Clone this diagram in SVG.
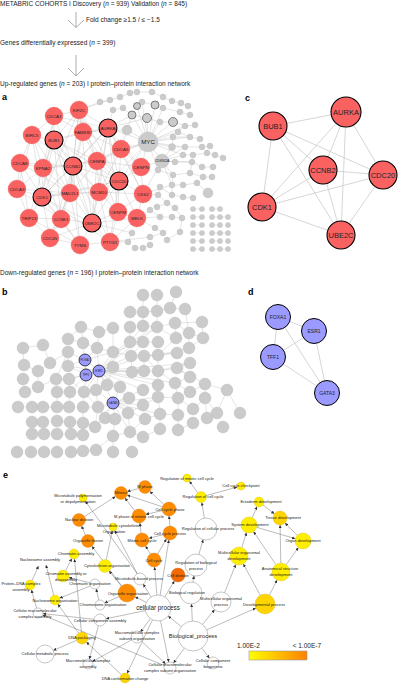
<svg xmlns="http://www.w3.org/2000/svg" width="401" height="685" viewBox="0 0 401 685">
<style>
text{font-family:"Liberation Sans",Arial,sans-serif;fill:#222}
.lbl{font-weight:bold;font-size:9px;fill:#000}
.hdr{font-size:6.5px}
.rn{fill:#fa6262;stroke:#e85656;stroke-width:0.3}
.rb{fill:#fa6262;stroke:#000;stroke-width:1.1}
.rt{font-size:4.4px;text-anchor:middle}
.gn{fill:#cbcbcb;stroke:#b4b4b4;stroke-width:0.3}
.gd{fill:#cbcbcb;stroke:#555;stroke-width:0.7}
.ea{stroke:#bdbdbd;stroke-width:0.4;fill:none}
.ec{stroke:#cccccc;stroke-width:0.8;fill:none}
.bn{fill:#9b9bff;stroke:#000;stroke-width:1}
.bs{fill:#9b9bff;stroke:#000;stroke-width:0.7}
.ct{font-size:7.5px;text-anchor:middle}
.dt{font-size:5px;text-anchor:middle}
.et{stroke:#6a6a6a;stroke-width:0.45;fill:none;marker-end:url(#ah)}
.eo{fill:#ff8c00;stroke:#c86e00;stroke-width:0.3}
.ed{fill:#f26a00;stroke:#b85000;stroke-width:0.3}
.ey{fill:#ffee00;stroke:#c8b400;stroke-width:0.3}
.eg{fill:#ffd400;stroke:#c8a000;stroke-width:0.3}
.ew{fill:#fff;stroke:#8c8c8c;stroke-width:0.5}
.tx{font-size:4px;text-anchor:middle}
.arr{stroke:#8a8a8a;stroke-width:0.7;fill:none}
</style>
<defs>
<marker id="ah" viewBox="0 0 6 6" refX="6" refY="3" markerWidth="3.2" markerHeight="3.2" orient="auto" markerUnits="userSpaceOnUse"><path d="M0 0L6 3L0 6z" fill="#333"/></marker>
<linearGradient id="lg" x1="0" x2="1" y1="0" y2="0"><stop offset="0" stop-color="#ffff00"/><stop offset="1" stop-color="#ff8000"/></linearGradient>
</defs>

<g id="header">
<text class="hdr" x="0" y="6">METABRIC COHORTS I Discovery (<tspan font-style="italic">n</tspan> = 939) Validation (<tspan font-style="italic">n</tspan> = 845)</text>
<path class="arr" d="M76 12V27.5M68 20L76 27.5L84 20"/>
<text class="hdr" x="86" y="21.6">Fold change ≥1.5 / ≤ −1.5</text>
<text class="hdr" x="0" y="45">Genes differentially expressed (<tspan font-style="italic">n</tspan> = 399)</text>
<path class="arr" d="M76 55V76M68 68L76 76L84 68"/>
<text class="hdr" x="0" y="85.7">Up-regulated genes (<tspan font-style="italic">n</tspan> = 203) I protein–protein interaction network</text>
<text class="hdr" x="0" y="274.5">Down-regulated genes (<tspan font-style="italic">n</tspan> = 196) I protein–protein interaction network</text>
<text class="lbl" x="2" y="100">a</text>
<text class="lbl" x="245" y="101">c</text>
<text class="lbl" x="2" y="295">b</text>
<text class="lbl" x="248" y="295">d</text>
<text class="lbl" x="3" y="478">e</text>
</g>

<g id="connectors">
<path class="ea" d="M79 110L54 116M79 110L83 132M79 110L108 128M79 110L54 140M79 110L73 166M79 110L97 161M79 110L70 193M79 110L119 181M79 110L42 197M79 110L92 223M54 116L32 135M54 116L54 140M54 116L83 132M54 116L43 168M54 116L73 166M54 116L42 197M54 116L108 128M32 135L54 140M32 135L20 163M32 135L43 168M32 135L42 197M32 135L73 166M32 135L17 189M32 135L70 193M54 140L83 132M54 140L108 128M54 140L43 168M54 140L73 166M54 140L97 161M54 140L42 197M54 140L70 193M54 140L119 181M54 140L92 223M54 140L99 192M54 140L61 219M83 132L108 128M83 132L73 166M83 132L97 161M83 132L121 149M83 132L119 181M83 132L70 193M108 128L73 166M108 128L97 161M108 128L121 149M108 128L119 181M108 128L42 197M108 128L92 223M108 128L99 192M108 128L141 167M108 128L143 194M108 128L118 212M20 163L43 168M20 163L17 189M20 163L42 197M20 163L73 166M20 163L29 218M20 163L70 193M43 168L73 166M43 168L17 189M43 168L42 197M43 168L70 193M43 168L29 218M43 168L61 219M43 168L97 161M73 166L97 161M73 166L42 197M73 166L70 193M73 166L99 192M73 166L119 181M73 166L92 223M73 166L61 219M73 166L50 238M73 166L80 245M73 166L110 242M97 161L121 149M97 161L70 193M97 161L99 192M97 161L119 181M97 161L118 212M97 161L92 223M97 161L141 167M121 149L119 181M121 149L141 167M121 149L99 192M121 149L143 194M17 189L42 197M17 189L29 218M17 189L61 219M17 189L70 193M42 197L70 193M42 197L119 181M42 197L29 218M42 197L61 219M42 197L92 223M42 197L50 238M42 197L80 245M42 197L99 192M42 197L110 242M70 193L99 192M70 193L61 219M70 193L92 223M70 193L50 238M70 193L80 245M70 193L119 181M99 192L119 181M99 192L118 212M99 192L92 223M99 192L110 242M99 192L143 194M119 181L118 212M119 181L92 223M119 181L141 167M119 181L143 194M119 181L137 218M119 181L110 242M29 218L61 219M29 218L50 238M29 218L80 245M61 219L92 223M61 219L50 238M61 219L80 245M118 212L92 223M118 212L110 242M118 212L137 218M118 212L143 194M92 223L50 238M92 223L80 245M92 223L110 242M92 223L137 218M50 238L80 245M80 245L110 242M110 242L137 218M141 167L143 194M143 194L137 218"/>
<path class="ea" d="M148 142L137 106M148 142L142 102M148 142L155 105M148 142L163 108M148 142L160 122M148 142L173 122M148 142L178 132M148 142L173 137M148 142L162 161M148 142L172 147M148 142L185 147M148 142L185 126M148 142L190 137M148 142L147 118M148 142L132 115M148 142L127 130M148 142L158 170M148 142L183 155M162 161L173 175M162 161L183 155M162 161L175 162M162 161L192 162M162 161L172 185M162 161L158 170M162 161L172 147M162 161L185 147M137 92L152 92M152 92L163 97M163 97L172 101M172 101L181 103M181 103L188 106M142 102L155 105M137 106L142 102M155 105L163 108M163 108L180 112M180 112L190 115M132 115L147 118M147 118L160 122M160 122L173 122M173 122L185 126M185 126L195 125M178 132L190 137M190 137L200 139M173 137L172 147M172 147L185 147M185 147L202 147M202 147L210 146M183 155L193 155M193 155L207 153M207 153L215 155M215 155L223 158M175 162L192 162M192 162L202 167M202 167L213 167M173 175L190 173M190 173L203 177M203 177L212 177M172 185L183 185M183 185L197 183M197 183L208 193M172 185L172 195M160 187L172 195M158 195L167 203M167 203L175 208M172 195L183 197M183 197L193 198M157 207L167 203M150 210L160 217M160 217L172 217M172 217L182 218M155 228L163 233M163 233L150 237M167 240L180 232M150 245L143 248M143 248L135 248M128 242L132 233M100 102L110 100M110 100L120 97M120 97L130 93M113 110L123 108M123 108L132 115M130 93L137 92M127 130L132 115M173 137L190 137M178 132L185 126M158 170L173 175M173 175L172 185M190 173L192 162M160 187L158 195M175 208L182 218M180 232L182 218M108 128L148 142M121 149L148 142M141 167L148 142M73 166L148 142M119 181L148 142M141 167L162 161M143 194L172 185M143 194L158 195M137 218L160 217M137 218L150 210M110 242L150 237M110 242L128 242M79 110L100 102M79 110L110 100M83 132L127 130M108 128L132 115M108 128L147 118M108 128L113 110M143 194L162 161M137 218L155 228M121 149L127 130M99 192L148 142M97 161L148 142M92 223L132 233M193 209L202 209M212 209L220 209M193 217L202 217M212 217L220 217M220 217L228 217M193 225L202 225M212 225L220 225M193 233L202 233M212 233L228 233M193 241L202 241M212 241L220 241M193 249L202 249M212 249L220 249M220 249L228 249"/>
<path class="ec" d="M273 126L346 112M273 126L262 207M273 126L323 170M273 126L383 175M273 126L341 235M346 112L262 207M346 112L323 170M346 112L341 235M346 112L383 175M323 170L383 175M323 170L262 207M323 170L341 235M262 207L383 175M262 207L341 235M341 235L383 175"/>
<path class="ea" d="M99 371L113 367M99 371L113 352M99 371L107 385M99 371L120 387M99 371L131 356M99 371L130 342M99 371L143 371M99 371L132 372M99 371L144 356M99 371L158 371M99 371L158 385M99 371L143 390M99 371L129 398M99 371L113 403M99 371L86 375M99 371L85 360M99 371L97 348M99 371L84 392M99 371L96 390M99 371L69 379M99 371L68 366M99 371L157 327M99 371L175 383M99 371L190 363M113 403L98 407M113 403L105 418M113 403L115 419M113 403L128 413M113 403L129 398M113 403L143 405M113 403L143 390M113 403L120 387M113 403L96 390M113 403L95 427M113 403L145 419M113 403L160 414M113 403L158 397M113 403L130 432M85 360L97 348M85 360L83 343M85 360L68 352M85 360L68 366M85 360L86 375M85 360L113 352M86 375L69 379M86 375L84 392M86 375L70 392M86 375L68 366M113 352L130 342M113 352L131 356M113 352L143 342M113 352L113 328M130 342L143 342M130 342L143 326M130 342L157 327M130 342L130 327M130 342L158 342M131 356L144 356M131 356L143 342M131 356L158 355M131 356L132 372M144 356L158 355M144 356L158 371M144 356L177 353M144 356L144 371M158 355L177 353M158 355L176 338M158 355L189 348M158 355L158 371M158 371L177 368M158 371L175 383M158 371L190 363M158 371L158 385M177 368L190 377M177 368L190 363M177 368L205 384M175 383L190 377M175 383L190 392M175 383L178 398M205 384L227 390M205 384L205 398M205 384L190 392M227 390L240 413M227 390L217 413M205 398L217 413M205 398L193 409M205 398L207 418M178 398L178 415M178 398L193 409M178 398L158 397M158 397L160 414M158 397L143 405M160 414L160 429M160 414L178 415M160 414L145 419M143 405L145 419M143 405L128 413M130 432L143 437M130 432L145 419M130 432L128 413M143 437L160 429M178 430L178 415M178 430L193 423M157 327L175 323M157 327L157 311M157 327L143 326M157 327L176 338M143 312L143 326M143 312L130 312M143 312L157 311M157 311L170 308M143 295L143 312M157 295L157 311M170 308L185 309M170 308L176 292M175 323L189 333M175 323L202 322M175 323L176 338M189 333L203 338M189 333L189 348M203 338L189 348M97 348L113 352M97 348L99 332M99 332L113 328M99 332L81 327M83 343L68 339M83 343L97 348M68 352L50 363M68 352L68 366M68 352L56 379M56 379L69 379M56 379L57 392M56 379L38 387M69 379L70 392M69 379L84 392M84 392L96 390M84 392L83 407M84 392L98 407M96 390L107 385M96 390L98 407M107 385L120 387M107 385L113 367M98 407L105 418M98 407L95 427M105 418L115 419M105 418L95 427M113 436L115 419M113 436L130 432M113 436L113 452M23 348L43 345M23 348L24 365M43 345L50 363M50 363L38 371M38 371L24 365M38 371L38 387M81 327L68 339M81 327L83 343M57 392L70 392M57 392L57 407M70 392L69 407M83 407L83 423M83 407L98 407M83 423L95 427M83 423L83 435M113 436L96 450M57 421L70 422M70 422L83 423M43 407L57 407M32 422L43 422M57 434L71 434M83 451L96 450M202 322L203 338M185 309L189 333"/>
<path class="ec" d="M278 317L314 331M278 317L273 357M278 317L327 393M314 331L273 357M314 331L327 393M273 357L327 393"/>
<path class="et" d="M181.3 626.6L168.2 616.1"/>
<path class="et" d="M192.3 621L191.5 604"/>
<path class="et" d="M202.5 624.4L214.6 609.7"/>
<path class="et" d="M206.7 629.9L255.9 608.1"/>
<path class="et" d="M201.9 648.1L209.4 658.2"/>
<path class="et" d="M192.9 582.2L194.1 575.8"/>
<path class="et" d="M198.9 554.4L203.1 539.6"/>
<path class="et" d="M204.3 518.1L201.8 502.4"/>
<path class="et" d="M197.7 492.6L189.4 481.2"/>
<path class="et" d="M206.3 495.5L237.1 487.1"/>
<path class="et" d="M224.6 592.7L235.7 564.4"/>
<path class="et" d="M260.2 595.2L243.3 563.9"/>
<path class="et" d="M269.5 595.1L277 580"/>
<path class="et" d="M241.8 547.4L246.5 532.6"/>
<path class="et" d="M275.9 564.6L253.5 531.6"/>
<path class="et" d="M286.2 564.7L298.4 547.5"/>
<path class="et" d="M280.8 563L280.1 525"/>
<path class="et" d="M256.7 527.3L295.3 538.7"/>
<path class="et" d="M297.3 535.3L285 523"/>
<path class="et" d="M263 505L274.4 513.8"/>
<path class="et" d="M252.2 517.7L257 506.6"/>
<path class="et" d="M156.9 595L154.6 567"/>
<path class="et" d="M164.7 596.9L174.4 581"/>
<path class="et" d="M151.1 597L143.2 584.1"/>
<path class="et" d="M146.3 602.3L135.1 596.9"/>
<path class="et" d="M145.3 610.6L105.9 618.8"/>
<path class="et" d="M150.4 618.5L140.5 632.1"/>
<path class="et" d="M160.5 620.8L168.8 662.1"/>
<path class="et" d="M160.1 595.2L168.9 539.9"/>
<path class="et" d="M157.6 554L166.4 539"/>
<path class="et" d="M170 526L169 516"/>
<path class="et" d="M163.2 534.7L148.8 538.3"/>
<path class="et" d="M163.8 504.3L149.8 491.4"/>
<path class="et" d="M162.2 510.6L145.8 514.4"/>
<path class="et" d="M141.1 533.1L139.9 523"/>
<path class="et" d="M138.7 488.6L127.3 491.4"/>
<path class="et" d="M134.7 510.5L125 498.1"/>
<path class="et" d="M162.4 506.8L127.2 495.1"/>
<path class="et" d="M84.5 516.5L115.5 496.5"/>
<path class="et" d="M85.4 535L81.6 526"/>
<path class="et" d="M121.6 585.8L91.9 546.2"/>
<path class="et" d="M121.3 586L109.1 571"/>
<path class="et" d="M106.3 559.6L112.2 530.9"/>
<path class="et" d="M137.2 573.7L114.8 530.5"/>
<path class="et" d="M137.5 574L85.3 501.2"/>
<path class="et" d="M98.8 600.1L96.2 588.9"/>
<path class="et" d="M118.8 596.7L104.6 603"/>
<path class="et" d="M90.2 582.8L68.8 577.5"/>
<path class="et" d="M65.7 570.6L71.8 558.5"/>
<path class="et" d="M53.7 595.2L46 565"/>
<path class="et" d="M90.4 585.9L59.6 598.1"/>
<path class="et" d="M32 580.5L38.5 566"/>
<path class="et" d="M36.6 608.2L31.4 589.8"/>
<path class="et" d="M94 619.3L43 613.6"/>
<path class="et" d="M81.4 632L74.5 559"/>
<path class="et" d="M78.5 633.1L57.9 604.1"/>
<path class="et" d="M121.3 674.6L86.4 642.1"/>
<path class="et" d="M76.5 640.4L53.3 650.4"/>
<path class="et" d="M131.7 639.9L92.4 661.6"/>
<path class="et" d="M152.5 619.8L127.1 673.5"/>
<path class="et" d="M184.2 648.2L173.5 663.1"/>
<path class="et" d="M141.4 641.1L165.6 663.9"/>
<path class="et" d="M164.5 665.7L42.6 614.9"/>
<path class="et" d="M98.4 625.8L89.3 659.2"/>
<path class="et" d="M150.4 554L145.6 546"/>
</g>

<g id="a-other-nodes">
<circle class="gn" cx="137" cy="92" r="3"/><circle class="gn" cx="152" cy="92" r="3"/><circle class="gn" cx="163" cy="97" r="3"/><circle class="gn" cx="172" cy="101" r="3"/><circle class="gn" cx="181" cy="103" r="3"/><circle class="gn" cx="188" cy="106" r="3"/><circle class="gn" cx="142" cy="102" r="3"/><circle class="gd" cx="155" cy="105" r="4"/><circle class="gd" cx="137" cy="106" r="3.5"/><circle class="gn" cx="163" cy="108" r="3"/><circle class="gn" cx="180" cy="112" r="3"/><circle class="gn" cx="190" cy="115" r="3"/><circle class="gd" cx="132" cy="115" r="4"/><circle class="gd" cx="147" cy="118" r="4.5"/><circle class="gd" cx="173" cy="122" r="4.5"/><circle class="gn" cx="160" cy="122" r="3"/><circle class="gn" cx="185" cy="126" r="3"/><circle class="gn" cx="195" cy="125" r="3"/><circle class="gn" cx="178" cy="132" r="3"/><circle class="gn" cx="173" cy="137" r="3"/><circle class="gn" cx="190" cy="137" r="3"/><circle class="gn" cx="200" cy="139" r="3"/><circle class="gn" cx="202" cy="147" r="3"/><circle class="gn" cx="210" cy="146" r="3"/><circle class="gn" cx="172" cy="147" r="3.5"/><circle class="gn" cx="185" cy="147" r="3"/><circle class="gn" cx="183" cy="155" r="3"/><circle class="gn" cx="193" cy="155" r="3"/><circle class="gn" cx="207" cy="153" r="3"/><circle class="gn" cx="215" cy="155" r="3"/><circle class="gn" cx="223" cy="158" r="3"/><circle class="gn" cx="175" cy="162" r="3"/><circle class="gn" cx="192" cy="162" r="3"/><circle class="gn" cx="202" cy="167" r="3"/><circle class="gn" cx="213" cy="167" r="3"/><circle class="gn" cx="158" cy="170" r="3"/><circle class="gn" cx="173" cy="175" r="3"/><circle class="gn" cx="190" cy="173" r="3"/><circle class="gn" cx="203" cy="177" r="3"/><circle class="gn" cx="212" cy="177" r="3"/><circle class="gn" cx="172" cy="185" r="3"/><circle class="gn" cx="183" cy="185" r="3"/><circle class="gn" cx="197" cy="183" r="3"/><circle class="gn" cx="208" cy="193" r="5"/><circle class="gn" cx="160" cy="187" r="3"/><circle class="gn" cx="158" cy="195" r="3"/><circle class="gn" cx="172" cy="195" r="3"/><circle class="gn" cx="183" cy="197" r="3"/><circle class="gn" cx="193" cy="198" r="3"/><circle class="gn" cx="157" cy="207" r="3"/><circle class="gn" cx="167" cy="203" r="3"/><circle class="gn" cx="175" cy="208" r="3"/><circle class="gn" cx="150" cy="210" r="3"/><circle class="gn" cx="160" cy="217" r="3"/><circle class="gn" cx="172" cy="217" r="3"/><circle class="gn" cx="182" cy="218" r="3"/><circle class="gn" cx="155" cy="228" r="3"/><circle class="gn" cx="163" cy="233" r="3"/><circle class="gn" cx="150" cy="237" r="3"/><circle class="gn" cx="167" cy="240" r="3"/><circle class="gn" cx="180" cy="232" r="3"/><circle class="gn" cx="143" cy="248" r="3"/><circle class="gn" cx="150" cy="245" r="3"/><circle class="gn" cx="135" cy="248" r="3"/><circle class="gn" cx="128" cy="242" r="3"/><circle class="gn" cx="132" cy="233" r="3"/><circle class="gn" cx="100" cy="102" r="3"/><circle class="gn" cx="110" cy="100" r="3"/><circle class="gn" cx="120" cy="97" r="3"/><circle class="gn" cx="130" cy="93" r="3"/><circle class="gn" cx="113" cy="110" r="3"/><circle class="gn" cx="123" cy="108" r="3"/><circle class="gn" cx="127" cy="130" r="5"/>
<circle class="gn" cx="193" cy="209" r="2.6"/><circle class="gn" cx="202" cy="209" r="2.6"/><circle class="gn" cx="212" cy="209" r="2.6"/><circle class="gn" cx="220" cy="209" r="2.6"/><circle class="gn" cx="193" cy="217" r="2.6"/><circle class="gn" cx="202" cy="217" r="2.6"/><circle class="gn" cx="212" cy="217" r="2.6"/><circle class="gn" cx="220" cy="217" r="2.6"/><circle class="gn" cx="228" cy="217" r="2.6"/><circle class="gn" cx="193" cy="225" r="2.6"/><circle class="gn" cx="202" cy="225" r="2.6"/><circle class="gn" cx="212" cy="225" r="2.6"/><circle class="gn" cx="220" cy="225" r="2.6"/><circle class="gn" cx="228" cy="225" r="2.6"/><circle class="gn" cx="193" cy="233" r="2.6"/><circle class="gn" cx="202" cy="233" r="2.6"/><circle class="gn" cx="212" cy="233" r="2.6"/><circle class="gn" cx="220" cy="233" r="2.6"/><circle class="gn" cx="228" cy="233" r="2.6"/><circle class="gn" cx="193" cy="241" r="2.6"/><circle class="gn" cx="202" cy="241" r="2.6"/><circle class="gn" cx="212" cy="241" r="2.6"/><circle class="gn" cx="220" cy="241" r="2.6"/><circle class="gn" cx="228" cy="241" r="2.6"/><circle class="gn" cx="193" cy="249" r="2.6"/><circle class="gn" cx="202" cy="249" r="2.6"/><circle class="gn" cx="212" cy="249" r="2.6"/><circle class="gn" cx="220" cy="249" r="2.6"/><circle class="gn" cx="228" cy="249" r="2.6"/>
</g>
<g id="a-MYC"><circle class="gn" cx="148" cy="142" r="10"/><text x="148" y="144.2" font-size="6.2" text-anchor="middle">MYC</text></g>
<g id="a-CDKN2A"><circle class="gn" cx="162" cy="161" r="7"/><text x="162" y="162.3" font-size="3.6" text-anchor="middle">CDKN2A</text></g>

<g id="a-KIF2C"><circle class="rn" cx="79" cy="110" r="9"/><text class="rt" x="79" y="111.5">KIF2C</text></g>
<g id="a-CDCA1"><circle class="rn" cx="54" cy="116" r="9"/><text class="rt" x="54" y="117.5">CDCA1</text></g>
<g id="a-BIRC5"><circle class="rn" cx="32" cy="135" r="9"/><text class="rt" x="32" y="136.5">BIRC5</text></g>
<g id="a-BUB1"><circle class="rb" cx="54" cy="140" r="9"/><text class="rt" x="54" y="141.5">BUB1</text></g>
<g id="a-FAM83D"><circle class="rn" cx="83" cy="132" r="9"/><text class="rt" x="83" y="133.5">FAM83D</text></g>
<g id="a-AURKA"><circle class="rb" cx="108" cy="128" r="9"/><text class="rt" x="108" y="129.5">AURKA</text></g>
<g id="a-CDCA8"><circle class="rn" cx="20" cy="163" r="9"/><text class="rt" x="20" y="164.5">CDCA8</text></g>
<g id="a-KPNA2"><circle class="rn" cx="43" cy="168" r="9"/><text class="rt" x="43" y="169.5">KPNA2</text></g>
<g id="a-CCNB2"><circle class="rb" cx="73" cy="166" r="9"/><text class="rt" x="73" y="167.5">CCNB2</text></g>
<g id="a-CENPA"><circle class="rn" cx="97" cy="161" r="9"/><text class="rt" x="97" y="162.5">CENPA</text></g>
<g id="a-CDCA5"><circle class="rn" cx="121" cy="149" r="9"/><text class="rt" x="121" y="150.5">CDCA5</text></g>
<g id="a-CDCA3"><circle class="rn" cx="17" cy="189" r="9"/><text class="rt" x="17" y="190.5">CDCA3</text></g>
<g id="a-CDK1"><circle class="rb" cx="42" cy="197" r="9"/><text class="rt" x="42" y="198.5">CDK1</text></g>
<g id="a-MAD2L1"><circle class="rn" cx="70" cy="193" r="9"/><text class="rt" x="70" y="194.5">MAD2L1</text></g>
<g id="a-MCM10"><circle class="rn" cx="99" cy="192" r="9"/><text class="rt" x="99" y="193.5">MCM10</text></g>
<g id="a-CDC20"><circle class="rb" cx="119" cy="181" r="9"/><text class="rt" x="119" y="182.5">CDC20</text></g>
<g id="a-TRIP13"><circle class="rn" cx="29" cy="218" r="9"/><text class="rt" x="29" y="219.5">TRIP13</text></g>
<g id="a-CCNE1"><circle class="rn" cx="61" cy="219" r="9"/><text class="rt" x="61" y="220.5">CCNE1</text></g>
<g id="a-CENPM"><circle class="rn" cx="118" cy="212" r="9"/><text class="rt" x="118" y="213.5">CENPM</text></g>
<g id="a-UBE2C"><circle class="rb" cx="92" cy="223" r="9"/><text class="rt" x="92" y="224.5">UBE2C</text></g>
<g id="a-CDC45"><circle class="rn" cx="50" cy="238" r="9"/><text class="rt" x="50" y="239.5">CDC45</text></g>
<g id="a-TYMS"><circle class="rn" cx="80" cy="245" r="9"/><text class="rt" x="80" y="246.5">TYMS</text></g>
<g id="a-PTTG1"><circle class="rn" cx="110" cy="242" r="9"/><text class="rt" x="110" y="243.5">PTTG1</text></g>
<g id="a-CENPN"><circle class="rn" cx="141" cy="167" r="9"/><text class="rt" x="141" y="168.5">CENPN</text></g>
<g id="a-CKS2"><circle class="rn" cx="143" cy="194" r="9"/><text class="rt" x="143" y="195.5">CKS2</text></g>
<g id="a-MELK"><circle class="rn" cx="137" cy="218" r="9"/><text class="rt" x="137" y="219.5">MELK</text></g>

<g id="c-AURKA"><circle class="rb" cx="346" cy="112" r="15"/><text class="ct" x="346" y="114.7">AURKA</text></g>
<g id="c-BUB1"><circle class="rb" cx="273" cy="126" r="14"/><text class="ct" x="273" y="128.7">BUB1</text></g>
<g id="c-CCNB2"><circle class="rb" cx="323" cy="170" r="14"/><text class="ct" x="323" y="172.7">CCNB2</text></g>
<g id="c-CDC20"><circle class="rb" cx="383" cy="175" r="14"/><text class="ct" x="383" y="177.7">CDC20</text></g>
<g id="c-CDK1"><circle class="rb" cx="262" cy="207" r="14"/><text class="ct" x="262" y="209.7">CDK1</text></g>
<g id="c-UBE2C"><circle class="rb" cx="341" cy="235" r="14"/><text class="ct" x="341" y="237.7">UBE2C</text></g>

<g id="b-other-nodes" class="gn">
<circle cx="81" cy="327" r="6"/><circle cx="99" cy="332" r="6"/><circle cx="113" cy="328" r="6"/><circle cx="68" cy="339" r="6"/><circle cx="83" cy="343" r="6"/><circle cx="97" cy="348" r="6"/><circle cx="113" cy="352" r="6"/><circle cx="23" cy="348" r="6"/><circle cx="43" cy="345" r="6"/><circle cx="68" cy="352" r="6"/><circle cx="50" cy="363" r="6"/><circle cx="24" cy="365" r="6"/><circle cx="38" cy="371" r="6"/><circle cx="68" cy="366" r="6"/><circle cx="113" cy="367" r="6"/><circle cx="23" cy="379" r="6"/><circle cx="56" cy="379" r="6"/><circle cx="69" cy="379" r="6"/><circle cx="25" cy="392" r="6"/><circle cx="38" cy="387" r="6"/><circle cx="57" cy="392" r="6"/><circle cx="70" cy="392" r="6"/><circle cx="84" cy="392" r="6"/><circle cx="96" cy="390" r="6"/><circle cx="107" cy="385" r="6"/><circle cx="18" cy="407" r="6"/><circle cx="32" cy="407" r="6"/><circle cx="43" cy="407" r="6"/><circle cx="57" cy="407" r="6"/><circle cx="69" cy="407" r="6"/><circle cx="83" cy="407" r="6"/><circle cx="98" cy="407" r="6"/><circle cx="32" cy="422" r="6"/><circle cx="43" cy="422" r="6"/><circle cx="57" cy="421" r="6"/><circle cx="70" cy="422" r="6"/><circle cx="83" cy="423" r="6"/><circle cx="95" cy="427" r="6"/><circle cx="105" cy="418" r="6"/><circle cx="115" cy="419" r="6"/><circle cx="32" cy="434" r="6"/><circle cx="44" cy="434" r="6"/><circle cx="57" cy="434" r="6"/><circle cx="71" cy="434" r="6"/><circle cx="83" cy="435" r="6"/><circle cx="113" cy="436" r="6"/><circle cx="17" cy="452" r="6"/><circle cx="31" cy="452" r="6"/><circle cx="44" cy="452" r="6"/><circle cx="57" cy="452" r="6"/><circle cx="71" cy="452" r="6"/><circle cx="83" cy="451" r="6"/><circle cx="96" cy="450" r="6"/><circle cx="113" cy="452" r="6"/>
<circle cx="143" cy="295" r="6"/><circle cx="157" cy="295" r="6"/><circle cx="176" cy="292" r="6"/><circle cx="130" cy="312" r="6"/><circle cx="143" cy="312" r="6"/><circle cx="157" cy="311" r="6"/><circle cx="170" cy="308" r="6"/><circle cx="185" cy="309" r="6"/><circle cx="130" cy="327" r="6"/><circle cx="143" cy="326" r="6"/><circle cx="157" cy="327" r="6"/><circle cx="175" cy="323" r="6"/><circle cx="202" cy="322" r="6"/><circle cx="130" cy="342" r="6"/><circle cx="143" cy="342" r="6"/><circle cx="158" cy="342" r="6"/><circle cx="176" cy="338" r="6"/><circle cx="189" cy="333" r="6"/><circle cx="203" cy="338" r="6"/><circle cx="131" cy="356" r="6"/><circle cx="144" cy="356" r="6"/><circle cx="158" cy="355" r="6"/><circle cx="177" cy="353" r="6"/><circle cx="189" cy="348" r="6"/><circle cx="132" cy="372" r="6"/><circle cx="144" cy="371" r="6"/><circle cx="158" cy="371" r="6"/><circle cx="177" cy="368" r="6"/><circle cx="190" cy="363" r="6"/><circle cx="120" cy="387" r="6"/><circle cx="129" cy="398" r="6"/><circle cx="143" cy="390" r="6"/><circle cx="158" cy="385" r="6"/><circle cx="175" cy="383" r="6"/><circle cx="190" cy="377" r="6"/><circle cx="205" cy="384" r="6"/><circle cx="190" cy="392" r="6"/><circle cx="227" cy="390" r="6"/><circle cx="143" cy="405" r="6"/><circle cx="158" cy="397" r="6"/><circle cx="178" cy="398" r="6"/><circle cx="205" cy="398" r="6"/><circle cx="217" cy="413" r="6"/><circle cx="240" cy="413" r="6"/><circle cx="128" cy="413" r="6"/><circle cx="145" cy="419" r="6"/><circle cx="160" cy="414" r="6"/><circle cx="178" cy="415" r="6"/><circle cx="193" cy="409" r="6"/><circle cx="207" cy="418" r="6"/><circle cx="193" cy="423" r="6"/><circle cx="160" cy="429" r="6"/><circle cx="178" cy="430" r="6"/><circle cx="223" cy="427" r="6"/><circle cx="130" cy="432" r="6"/><circle cx="143" cy="437" r="6"/><circle cx="132" cy="452" r="6"/>
</g>
<g id="b-FOXA1"><circle class="bs" cx="85" cy="360" r="6"/><text x="85" y="361" font-size="2.8" text-anchor="middle">FOXA1</text></g>
<g id="b-TFF1"><circle class="bs" cx="86" cy="375" r="6"/><text x="86" y="376" font-size="2.8" text-anchor="middle">TFF1</text></g>
<g id="b-ESR1"><circle class="bs" cx="99" cy="371" r="6"/><text x="99" y="372" font-size="2.8" text-anchor="middle">ESR1</text></g>
<g id="b-GATA3"><circle class="bs" cx="113" cy="403" r="6"/><text x="113" y="404" font-size="2.8" text-anchor="middle">GATA3</text></g>

<g id="d-FOXA1"><circle class="bn" cx="278" cy="317" r="12.5"/><text class="dt" x="278" y="318.8">FOXA1</text></g>
<g id="d-ESR1"><circle class="bn" cx="314" cy="331" r="12.5"/><text class="dt" x="314" y="332.8">ESR1</text></g>
<g id="d-TFF1"><circle class="bn" cx="273" cy="357" r="12.5"/><text class="dt" x="273" y="358.8">TFF1</text></g>
<g id="d-GATA3"><circle class="bn" cx="327" cy="393" r="12.5"/><text class="dt" x="327" y="394.8">GATA3</text></g>

<g id="e-MTP"><circle class="ey" cx="83" cy="498" r="4"/><text class="tx" x="78" y="497.4">Microtubule polymerisation</text><text class="tx" x="78" y="503.4">or depolymerisation</text></g>
<g id="e-MIT"><circle class="eo" cx="121" cy="493" r="6.5"/><text class="tx" x="121" y="494.4">Mitosis</text></g>
<g id="e-MP"><circle class="eo" cx="145" cy="487" r="6.5"/><text class="tx" x="145" y="488.4">M phase</text></g>
<g id="e-RMCC"><circle class="ey" cx="187" cy="478" r="4"/><text class="tx" x="187" y="480">Regulation of mitotic cell cycle</text></g>
<g id="e-CCC"><circle class="ey" cx="241" cy="486" r="4"/><text class="tx" x="241" y="487.4">Cell cycle checkpoint</text></g>
<g id="e-RCC"><circle class="ey" cx="201" cy="497" r="5.5"/><text class="tx" x="203" y="498.4">Regulation of cell cycle</text></g>
<g id="e-ED"><circle class="ey" cx="259" cy="502" r="5"/><text class="tx" x="261" y="503.4">Ectoderm development</text></g>
<g id="e-ND"><circle class="eo" cx="79" cy="520" r="6.5"/><text class="tx" x="79" y="521.4">Nuclear division</text></g>
<g id="e-MPM"><circle class="eo" cx="139" cy="516" r="7"/><text class="tx" x="139" y="518">M phase of mitotic cell cycle</text></g>
<g id="e-CCPH"><circle class="eo" cx="169" cy="509" r="7"/><text class="tx" x="170" y="511">Cell cycle phase</text></g>
<g id="e-MCO"><circle class="ey" cx="113" cy="527" r="4"/><text class="tx" x="119" y="527.4">Microtubule cytoskeleton</text><text class="tx" x="114" y="532.8">Organization</text></g>
<g id="e-OF"><circle class="eo" cx="88" cy="541" r="6.5"/><text class="tx" x="88" y="542.4">Organelle fission</text></g>
<g id="e-MCC"><circle class="eo" cx="142" cy="540" r="7"/><text class="tx" x="142" y="542">Mitotic cell cycle</text></g>
<g id="e-CCP"><circle class="eo" cx="170" cy="533" r="7"/><text class="tx" x="170" y="535">Cell cycle process</text></g>
<g id="e-RCP"><circle class="ew" cx="206" cy="529" r="11"/><text class="tx" x="208" y="530.4">Regulation of cellular process</text></g>
<g id="e-SD"><circle class="ey" cx="249" cy="525" r="8"/><text class="tx" x="250" y="526.4">System development</text></g>
<g id="e-TD"><circle class="eg" cx="280" cy="518" r="7"/><text class="tx" x="283" y="519.4">Tissue development</text></g>
<g id="e-OD"><circle class="ey" cx="303" cy="541" r="8"/><text class="tx" x="303" y="542.4">Organ development</text></g>
<g id="e-MOD"><circle class="ey" cx="239" cy="556" r="9"/><text class="tx" x="239" y="554.4">Multicellular organismal</text><text class="tx" x="239" y="560.2">development</text></g>
<g id="e-ASD"><circle class="ey" cx="281" cy="572" r="9"/><text class="tx" x="280" y="570.4">Anatomical structure</text><text class="tx" x="281" y="576.2">development</text></g>
<g id="e-CA"><circle class="ey" cx="74" cy="554" r="5"/><text class="tx" x="76" y="555.4">Chromatin assembly</text></g>
<g id="e-NA"><text class="tx" x="40" y="561.4">Nucleosome assembly</text></g>
<g id="e-CO"><circle class="ey" cx="105" cy="566" r="6.5"/><text class="tx" x="107" y="567.4">Cytoskeleton organisation</text></g>
<g id="e-CC"><circle class="eo" cx="154" cy="560" r="7"/><text class="tx" x="154" y="562">Cell cycle</text></g>
<g id="e-CD"><circle class="ed" cx="178" cy="575" r="7"/><text class="tx" x="178" y="577">Cell division</text></g>
<g id="e-RBP"><circle class="ew" cx="196" cy="565" r="11"/><text class="tx" x="196" y="564.4">Regulation of biological</text><text class="tx" x="196" y="570.2">process</text></g>
<g id="e-CAD"><circle class="ey" cx="63" cy="576" r="6"/><text class="tx" x="66" y="575.4">Chromatin assembly or</text><text class="tx" x="66" y="581.2">disassembly</text></g>
<g id="e-MBP"><circle class="ew" cx="140" cy="579" r="6"/><text class="tx" x="139" y="580.4">Microtubule-based process</text></g>
<g id="e-PDC"><circle class="ey" cx="30" cy="585" r="5"/><text class="tx" x="21" y="585.4">Protein–DNA complex</text><text class="tx" x="21" y="591.2">assembly</text></g>
<g id="e-CHRO"><circle class="ew" cx="95" cy="584" r="5"/><text class="tx" x="90" y="585.4">Chromatin organisation</text></g>
<g id="e-OO"><circle class="eo" cx="127" cy="593" r="9"/><text class="tx" x="128" y="595">Organelle organisation</text></g>
<g id="e-BR"><circle class="ew" cx="191" cy="593" r="11"/><text class="tx" x="187" y="594.4">Biological regulation</text></g>
<g id="e-NO"><circle class="ey" cx="55" cy="600" r="5"/><text class="tx" x="55" y="602">Nucleosome organisation</text></g>
<g id="e-CHO"><circle class="ew" cx="100" cy="605" r="5"/><text class="tx" x="103" y="606.4">Chromosome organisation</text></g>
<g id="e-MOP"><circle class="ew" cx="221" cy="602" r="10"/><text class="tx" x="221" y="600.4">Multicellular organismal</text><text class="tx" x="221" y="606.2">process</text></g>
<g id="e-DP"><circle class="eg" cx="265" cy="604" r="10"/><text class="tx" x="264" y="606.4">Developmental process</text></g>
<g id="e-CP"><circle class="ew" cx="158" cy="608" r="13"/><text x="158" y="610.2" font-size="6.3" text-anchor="middle">cellular process</text></g>
<g id="e-CMCA"><circle class="ew" cx="38" cy="613" r="5"/><text class="tx" x="35" y="612.4">Cellular macromolecular</text><text class="tx" x="35" y="618.2">complex assembly</text></g>
<g id="e-CCA"><circle class="ew" cx="100" cy="620" r="6"/><text class="tx" x="100" y="622.4">Cellular component assembly</text></g>
<g id="e-MCSO"><circle class="ew" cx="137" cy="637" r="6"/><text class="tx" x="137" y="634.4">Macromolecular complex</text><text class="tx" x="137" y="640.2">subunit organisation</text></g>
<g id="e-BP"><circle class="ew" cx="193" cy="636" r="15"/><text x="193" y="638" font-size="5.8" text-anchor="middle">Biological_process</text></g>
<g id="e-DNAP"><circle class="eg" cx="82" cy="638" r="6"/><text class="tx" x="82" y="639.4">DNA packaging</text></g>
<g id="e-CMP"><circle class="ew" cx="45" cy="654" r="9"/><text class="tx" x="45" y="655.4">Cellular metabolic process</text></g>
<g id="e-MCA"><circle class="ew" cx="88" cy="664" r="5"/><text class="tx" x="88" y="662.4">Macromolecular complex</text><text class="tx" x="88" y="668.2">assembly</text></g>
<g id="e-CMCSO"><circle class="ew" cx="170" cy="668" r="6"/><text class="tx" x="170" y="666.4">Cellular macromolecular</text><text class="tx" x="170" y="672.2">complex subunit organisation</text></g>
<g id="e-CCB"><circle class="ew" cx="213" cy="663" r="6"/><text class="tx" x="213" y="662.4">Cellular component</text><text class="tx" x="213" y="668.2">biogenesis</text></g>
<g id="e-DCC"><circle class="eg" cx="125" cy="678" r="5"/><text class="tx" x="125" y="680.4">DNA conformation change</text></g>

<g id="legend">
<text x="237" y="647.5" font-size="6.5">1.00E-2</text>
<text x="321" y="647.5" font-size="6.5" text-anchor="end">&lt; 1.00E-7</text>
<rect x="249" y="651" width="58" height="9" fill="url(#lg)" stroke="#999" stroke-width="0.6"/>
</g>
</svg>
